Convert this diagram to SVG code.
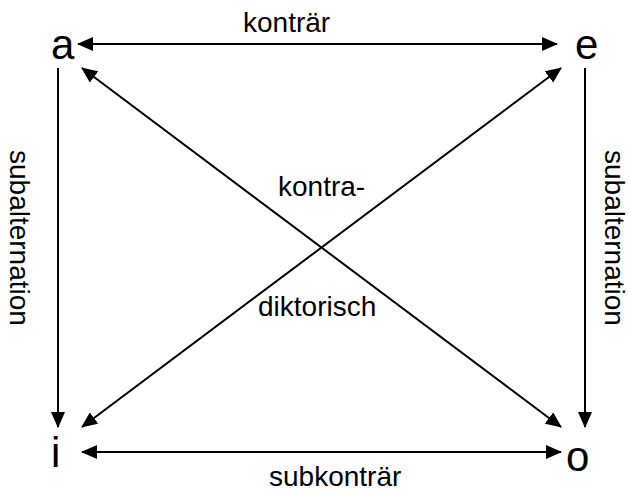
<svg xmlns="http://www.w3.org/2000/svg" width="630" height="491" viewBox="0 0 630 491">
<defs>
<marker id="ah" markerUnits="userSpaceOnUse" markerWidth="16" markerHeight="14" viewBox="0 0 16 14" refX="15" refY="7" orient="auto-start-reverse">
<path d="M0,0 L16,7 L0,14 Z" fill="#000"/>
</marker>
<style>
.lbl{font-family:"Liberation Sans",Arial,sans-serif;font-size:28px;fill:#000}
.node{font-family:"Liberation Sans",Arial,sans-serif;font-size:42px;fill:#000}
.ln{stroke:#000;stroke-width:2;fill:none}
</style>
</defs>
<rect width="630" height="491" fill="#fff"/>
<g id="connectors">
<line class="ln" x1="78" y1="44" x2="557" y2="44" marker-start="url(#ah)" marker-end="url(#ah)"/>
<line class="ln" x1="82" y1="452" x2="561" y2="452" marker-start="url(#ah)" marker-end="url(#ah)"/>
<line class="ln" x1="58" y1="68" x2="58" y2="427" marker-end="url(#ah)"/>
<line class="ln" x1="585" y1="68" x2="585" y2="427" marker-end="url(#ah)"/>
<line class="ln" x1="82" y1="68" x2="561" y2="427" marker-start="url(#ah)" marker-end="url(#ah)"/>
<line class="ln" x1="561" y1="68" x2="82" y2="427" marker-start="url(#ah)" marker-end="url(#ah)"/>
<text class="lbl" x="243" y="32">konträr</text>
<text class="lbl" x="269" y="486">subkonträr</text>
<text class="lbl" x="278" y="196">kontra-</text>
<text class="lbl" x="258" y="316">diktorisch</text>
<text class="lbl" transform="translate(10,150) rotate(90)">subalternation</text>
<text class="lbl" transform="translate(605,150) rotate(90)">subalternation</text>
</g>
<g id="node-a"><text class="node" x="51" y="59">a</text></g>
<g id="node-e"><text class="node" x="575" y="59">e</text></g>
<g id="node-i"><text class="node" x="51" y="467">i</text></g>
<g id="node-o"><text class="node" x="566" y="471">o</text></g>
</svg>
